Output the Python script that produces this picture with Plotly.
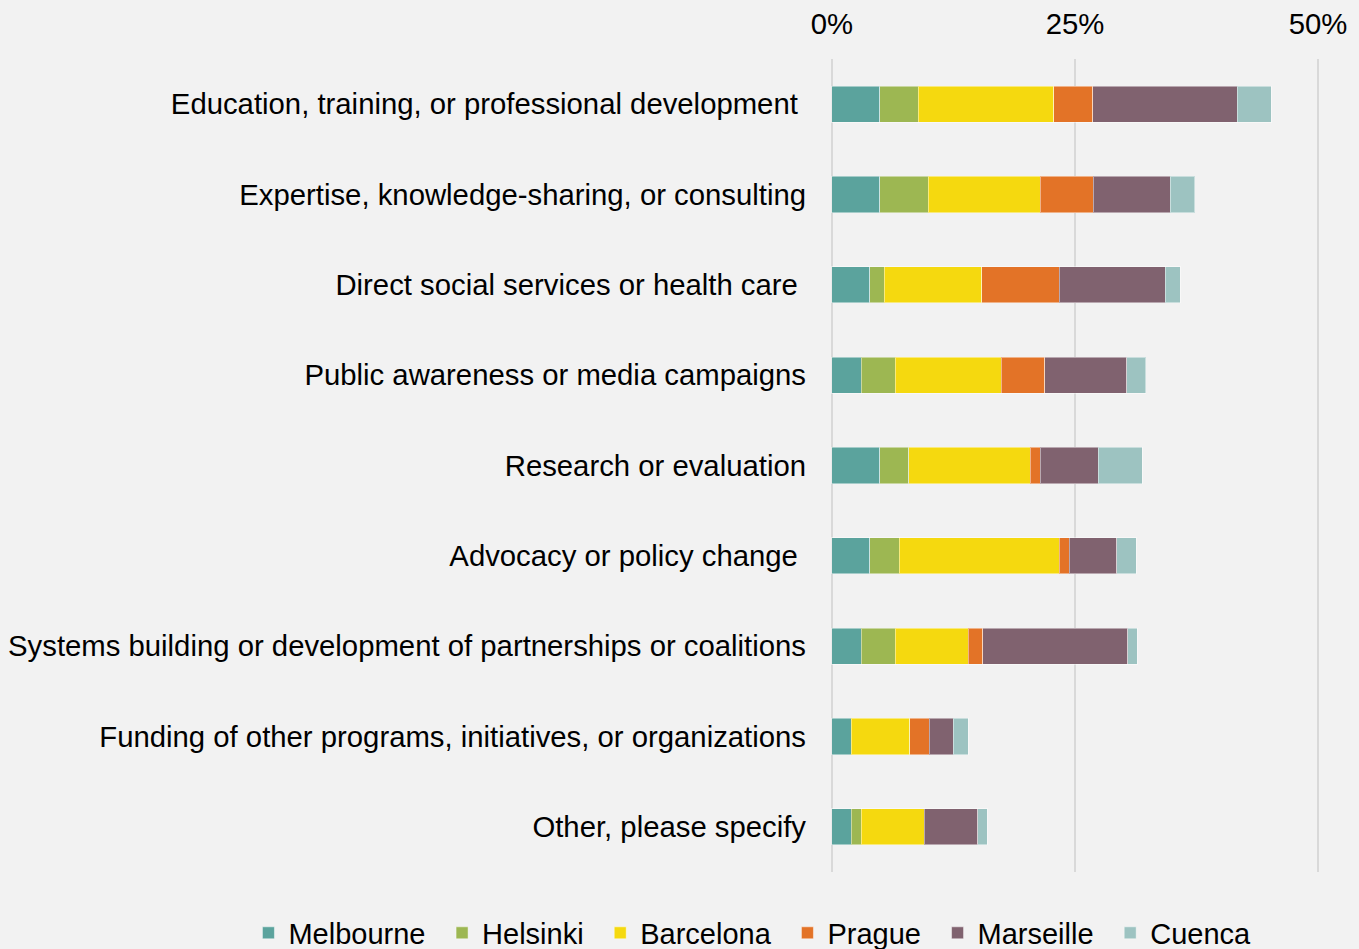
import plotly.graph_objects as go

# categories, top to bottom as in the chart
categories = [
    "Education, training, or professional development\u00a0",
    "Expertise, knowledge-sharing, or consulting",
    "Direct social services or health care\u00a0",
    "Public awareness or media campaigns",
    "Research or evaluation",
    "Advocacy or policy change\u00a0",
    "Systems building or development of partnerships or coalitions",
    "Funding of other programs, initiatives, or organizations",
    "Other, please specify",
]

# percent of respondents per city
melbourne = [4.9, 4.9, 3.9, 3.0, 4.9, 3.9, 3.0, 2.0, 2.0]
helsinki = [4.0, 5.0, 1.5, 3.5, 3.0, 3.0, 3.5, 0.0, 1.0]
barcelona = [13.9, 11.5, 10.0, 10.9, 12.5, 16.5, 7.5, 6.0, 6.5]
prague = [4.0, 5.5, 8.0, 4.5, 1.0, 1.0, 1.5, 2.0, 0.0]
marseille = [14.9, 7.9, 10.9, 8.4, 6.0, 4.9, 14.9, 2.5, 5.5]
cuenca = [3.5, 2.5, 1.5, 2.0, 4.5, 2.0, 1.0, 1.5, 1.0]

tick_vals = [0, 25, 50]
tick_text = ["0%", "25%", "50%"]

series = [
    ("Melbourne", melbourne, "#5BA39D"),
    ("Helsinki", helsinki, "#9DB752"),
    ("Barcelona", barcelona, "#F5D90F"),
    ("Prague", prague, "#E37327"),
    ("Marseille", marseille, "#80626F"),
    ("Cuenca", cuenca, "#9DC3C1"),
]

pad = "\u2009\u2009"  # a bit of room between legend entries

fig = go.Figure()
for name, vals, color in series:
    fig.add_trace(go.Bar(
        y=categories, x=vals, name=name + pad, orientation="h",
        marker=dict(color=color, line=dict(color="rgba(255,255,255,0.45)", width=1)),
        width=0.4,
    ))

fig.update_layout(
    barmode="stack",
    width=1359, height=949,
    paper_bgcolor="#F2F2F2", plot_bgcolor="#F2F2F2",
    font=dict(family="Liberation Sans, Arial", size=29.3, color="#000000"),
    margin=dict(l=829, r=38, t=59, b=77, autoexpand=False),
    showlegend=True,
    legend=dict(orientation="h", x=-1.18, xanchor="left",
                y=-0.075, yanchor="middle", font=dict(size=29),
                traceorder="normal", bgcolor="rgba(0,0,0,0)"),
    # range padded a little so the 0% and 50% gridlines still get drawn
    xaxis=dict(side="top", range=[-0.3, 50.3], tickvals=tick_vals, ticktext=tick_text,
               showgrid=True, gridcolor="#D9D9D9", gridwidth=2,
               zeroline=False, showline=False, ticks="", ticklabelstandoff=18),
    yaxis=dict(autorange="reversed", showgrid=False, zeroline=False,
               showline=False, ticks="", ticklabelstandoff=22),
)

fig.write_html("out.html", config={"displayModeBar": False},
               post_script="document.body.style.margin='0';")
